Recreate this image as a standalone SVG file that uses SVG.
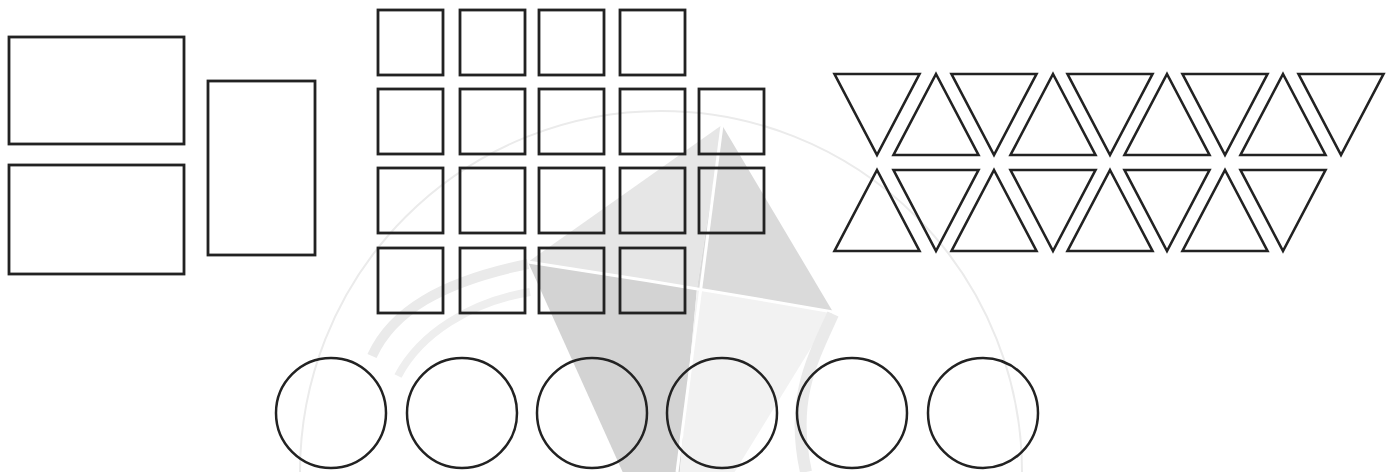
<svg xmlns="http://www.w3.org/2000/svg" width="1396" height="472" viewBox="0 0 1396 472">
<style>
.s{fill:none;stroke:#222;stroke-width:2.8}
.t{fill:none;stroke:#222;stroke-width:2.6;stroke-linejoin:miter}
.c{fill:none;stroke:#222;stroke-width:2.5}
</style>
<defs>
<polygon id="dn" points="-42.5,0 42.5,0 0,81"/>
<polygon id="up" points="0,0 42.5,81 -42.5,81"/>
</defs>
<rect width="1396" height="472" fill="#ffffff"/>
<g id="watermark">
<path d="M722,125 L528,262 L697,288 Z" fill="#e6e6e6"/>
<path d="M722,125 L697,288 L833,312 Z" fill="#dadada"/>
<path d="M528,262 L670,577 L697,288 Z" fill="#d3d3d3"/>
<path d="M697,288 L833,312 L670,577 Z" fill="#f2f2f2"/>
<path d="M528,262 Q680,285 833,312" fill="none" stroke="#ffffff" stroke-width="3"/>
<path d="M722,125 Q700,300 677,472" fill="none" stroke="#ffffff" stroke-width="3"/>
<path d="M300,472 A358,358 0 0 1 1022,472" fill="none" stroke="#ebebeb" stroke-width="2"/>
<path d="M372,356 C392,312 440,282 528,264" fill="none" stroke="#eaeaea" stroke-width="10"/>
<path d="M398,376 C420,334 470,302 530,292" fill="none" stroke="#eeeeee" stroke-width="8"/>
<path d="M833,314 C812,360 790,400 806,472" fill="none" stroke="#eaeaea" stroke-width="12"/>
</g>
<g id="rectangles">
<rect class="s" x="9" y="37" width="175" height="107"/>
<rect class="s" x="9" y="165" width="175" height="109"/>
<rect class="s" x="208" y="81" width="107" height="174"/>
</g>
<g id="squares">
<rect class="s" x="378" y="10" width="65" height="65"/>
<rect class="s" x="460" y="10" width="65" height="65"/>
<rect class="s" x="539" y="10" width="65" height="65"/>
<rect class="s" x="620" y="10" width="65" height="65"/>
<rect class="s" x="378" y="89" width="65" height="65"/>
<rect class="s" x="460" y="89" width="65" height="65"/>
<rect class="s" x="539" y="89" width="65" height="65"/>
<rect class="s" x="620" y="89" width="65" height="65"/>
<rect class="s" x="699" y="89" width="65" height="65"/>
<rect class="s" x="378" y="168" width="65" height="65"/>
<rect class="s" x="460" y="168" width="65" height="65"/>
<rect class="s" x="539" y="168" width="65" height="65"/>
<rect class="s" x="620" y="168" width="65" height="65"/>
<rect class="s" x="699" y="168" width="65" height="65"/>
<rect class="s" x="378" y="248" width="65" height="65"/>
<rect class="s" x="460" y="248" width="65" height="65"/>
<rect class="s" x="539" y="248" width="65" height="65"/>
<rect class="s" x="620" y="248" width="65" height="65"/>
</g>
<g id="triangles">
<use href="#dn" class="t" x="877" y="74"/>
<use href="#up" class="t" x="936" y="74"/>
<use href="#dn" class="t" x="994" y="74"/>
<use href="#up" class="t" x="1053" y="74"/>
<use href="#dn" class="t" x="1110" y="74"/>
<use href="#up" class="t" x="1167" y="74"/>
<use href="#dn" class="t" x="1225" y="74"/>
<use href="#up" class="t" x="1283" y="74"/>
<use href="#dn" class="t" x="1341" y="74"/>
<use href="#up" class="t" x="877" y="170"/>
<use href="#dn" class="t" x="936" y="170"/>
<use href="#up" class="t" x="994" y="170"/>
<use href="#dn" class="t" x="1053" y="170"/>
<use href="#up" class="t" x="1110" y="170"/>
<use href="#dn" class="t" x="1167" y="170"/>
<use href="#up" class="t" x="1225" y="170"/>
<use href="#dn" class="t" x="1283" y="170"/>
</g>
<g id="circles">
<circle class="c" cx="331" cy="413" r="55"/>
<circle class="c" cx="462" cy="413" r="55"/>
<circle class="c" cx="592" cy="413" r="55"/>
<circle class="c" cx="722" cy="413" r="55"/>
<circle class="c" cx="852" cy="413" r="55"/>
<circle class="c" cx="983" cy="413" r="55"/>
</g>
</svg>
